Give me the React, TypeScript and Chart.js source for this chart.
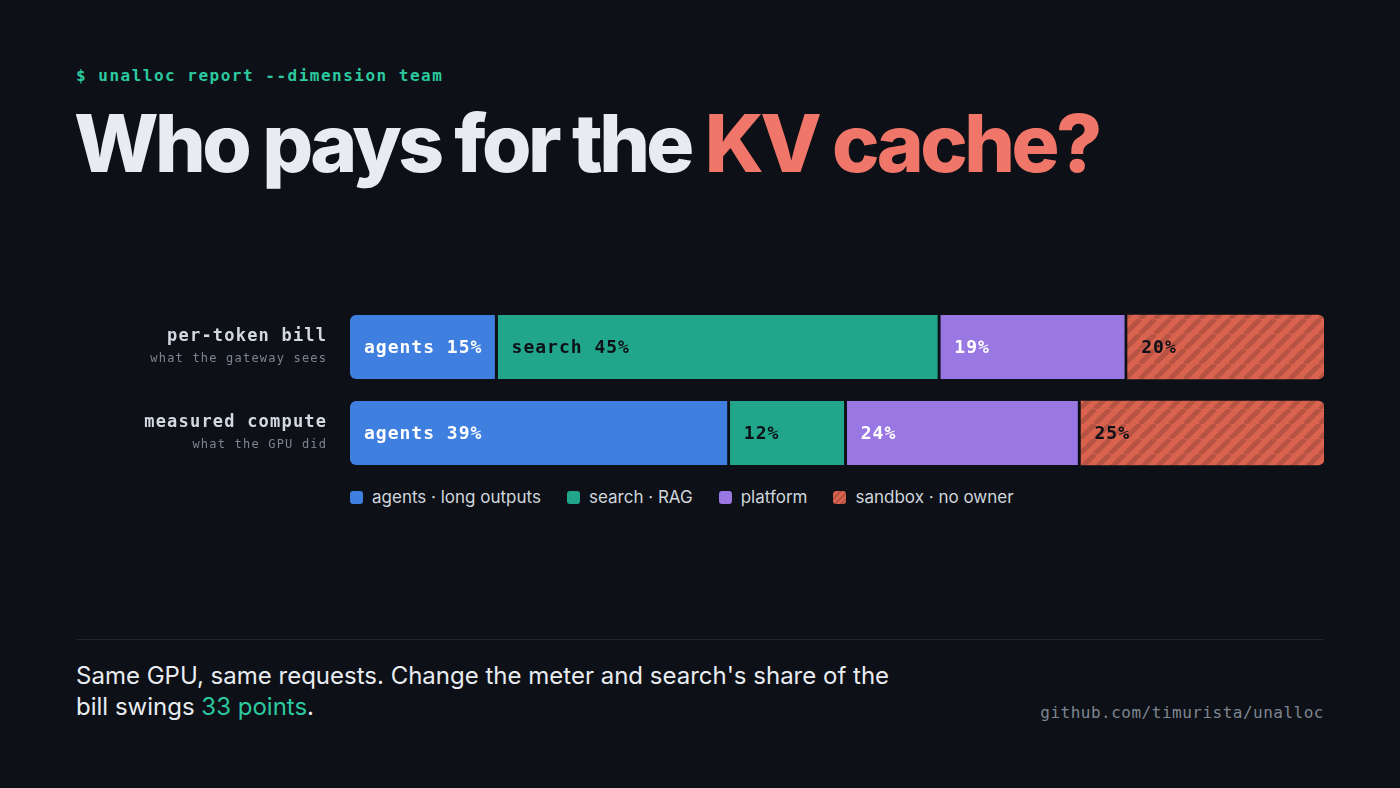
import React, { useEffect, useRef } from "react";
import { Chart, registerables } from "chart.js";

Chart.register(...registerables);

// ---- data ----
const rows = ["per-token bill", "measured compute"];
const rowNotes = ["what the gateway sees", "what the GPU did"];
const teams = ["agents", "search", "platform", "sandbox"];
const legendLabels = ["agents · long outputs", "search · RAG", "platform", "sandbox · no owner"];
const agentsShare = [15, 39];
const searchShare = [45, 12];
const platformShare = [19, 24];
const sandboxShare = [20, 25];
// which segments print the team name in front of the percentage (per row)
const billNamed = [true, true, false, false];
const computeNamed = [true, false, false, false];

// ---- style ----
const BG = "#0d1016";
const teamColors = ["#3f7fdf", "#21a68b", "#9a78e4", "#d9634f"];
const hatchStripe = "#b75343";
const inkOnBar = ["#ffffff", "#0d1016", "#ffffff", "#0d1016"];
const MONO = "'DejaVu Sans Mono', 'Liberation Mono', monospace";
const SANS = "Inter, 'Noto Sans', sans-serif";

const shares = [agentsShare, searchShare, platformShare, sandboxShare];
const named = [billNamed, computeNamed];
const rowTotals = rows.map((_, r) => shares.reduce((s, arr) => s + arr[r], 0));

function makeHatch(base: string, stripe: string): CanvasPattern | string {
  const s = 15;
  const c = document.createElement("canvas");
  c.width = s;
  c.height = s;
  const g = c.getContext("2d");
  if (!g) return base;
  g.fillStyle = base;
  g.fillRect(0, 0, s, s);
  g.strokeStyle = stripe;
  g.lineWidth = 4.8;
  g.beginPath();
  for (const o of [-s, 0, s]) {
    g.moveTo(o, s);
    g.lineTo(o + s, 0);
  }
  g.stroke();
  return g.createPattern(c, "repeat") || base;
}

const barTextPlugin = {
  id: "barText",
  afterDatasetsDraw(chart: any) {
    const ctx = chart.ctx as CanvasRenderingContext2D;
    ctx.save();
    ctx.font = `bold 18px ${MONO}`;
    (ctx as any).letterSpacing = "1px";
    ctx.textBaseline = "middle";
    ctx.textAlign = "left";
    chart.data.datasets.forEach((_ds: any, di: number) => {
      const meta = chart.getDatasetMeta(di);
      meta.data.forEach((el: any, i: number) => {
        const p = el.getProps(["x", "y", "base"], true);
        const left = Math.min(p.x, p.base);
        const v = shares[di][i];
        const txt = named[i][di] ? `${teams[di]} ${v}%` : `${v}%`;
        ctx.fillStyle = inkOnBar[di];
        ctx.fillText(txt, left + 14, p.y + 1);
      });
    });
    ctx.restore();
  },
};

const rowLabelPlugin = {
  id: "rowLabels",
  afterDraw(chart: any) {
    const ctx = chart.ctx as CanvasRenderingContext2D;
    const { chartArea, scales } = chart;
    ctx.save();
    ctx.textAlign = "right";
    ctx.textBaseline = "middle";
    rows.forEach((r, i) => {
      const cy = scales.y.getPixelForValue(i);
      const rx = chartArea.left - 24;
      ctx.font = `bold 17px ${MONO}`;
      (ctx as any).letterSpacing = "1.2px";
      ctx.fillStyle = "#d3d9e0";
      ctx.fillText(r, rx + 1.2, cy - 10);
      ctx.font = `12px ${MONO}`;
      (ctx as any).letterSpacing = "1.2px";
      ctx.fillStyle = "#7d8590";
      ctx.fillText(rowNotes[i], rx + 1.2, cy + 12);
    });
    ctx.restore();
  },
};

function ChartBlock() {
  const ref = useRef<HTMLCanvasElement | null>(null);
  useEffect(() => {
    if (!ref.current) return;
    const last = teams.length - 1;
    const datasets = teams.map((t, di) => ({
      label: t,
      data: rows.map((_, r) => (shares[di][r] / rowTotals[r]) * 100),
      backgroundColor: di === last ? makeHatch(teamColors[di], hatchStripe) : teamColors[di],
      borderColor: BG,
      borderWidth: di === last ? 0 : { top: 0, bottom: 0, left: 0, right: 3 },
      borderSkipped: false as const,
      borderRadius:
        di === 0
          ? { topLeft: 6, bottomLeft: 6, topRight: 0, bottomRight: 0 }
          : di === last
          ? { topLeft: 0, bottomLeft: 0, topRight: 6, bottomRight: 6 }
          : 0,
      barThickness: 64,
    }));
    const chart = new Chart(ref.current, {
      type: "bar",
      data: { labels: rows, datasets },
      options: {
        indexAxis: "y",
        animation: false,
        responsive: false,
        maintainAspectRatio: false,
        layout: { padding: { left: 350, right: 76, top: 0, bottom: 0 } },
        scales: {
          x: { stacked: true, min: 0, max: 100, display: false },
          y: { stacked: true, display: false },
        },
        plugins: {
          legend: { display: false },
          tooltip: { enabled: false },
        },
      },
      plugins: [barTextPlugin, rowLabelPlugin],
    });
    return () => chart.destroy();
  }, []);
  return (
    <canvas
      ref={ref}
      width={1400}
      height={172}
      style={{ position: "absolute", left: 0, top: 304, width: 1400, height: 172 }}
    />
  );
}

function Swatch({ i }: { i: number }) {
  const base = teamColors[i];
  const style: React.CSSProperties = {
    width: 13,
    height: 13,
    borderRadius: 3,
    background:
      i === teams.length - 1
        ? `repeating-linear-gradient(-45deg, ${base} 0px, ${base} 2.5px, ${hatchStripe} 2.5px, ${hatchStripe} 4.5px)`
        : base,
    flex: "0 0 auto",
  };
  return <span style={style} />;
}

export default function App() {
  return (
    <div
      style={{
        position: "fixed",
        inset: 0,
        width: 1400,
        height: 788,
        background: BG,
        overflow: "hidden",
      }}
    >
      <div
        style={{
          position: "absolute",
          left: 76,
          top: 68,
          font: `600 16px ${MONO}`,
          lineHeight: "16px",
          letterSpacing: "1.5px",
          color: "#2cc9a0",
          whiteSpace: "nowrap",
        }}
      >
        $ unalloc report --dimension team
      </div>
      <div
        style={{
          position: "absolute",
          left: 74,
          top: 103,
          font: `800 80px ${SANS}`,
          lineHeight: "80px",
          letterSpacing: "-0.045em",
          color: "#e8ecf1",
          whiteSpace: "nowrap",
        }}
      >
        Who pays for the <span style={{ color: "#f07669" }}>KV cache?</span>
      </div>

      <ChartBlock />

      <div
        style={{
          position: "absolute",
          left: 350,
          top: 487,
          height: 20,
          display: "flex",
          alignItems: "center",
          gap: 26,
          font: `17px ${SANS}`,
          color: "#d0d6dd",
          whiteSpace: "nowrap",
        }}
      >
        {legendLabels.map((l, i) => (
          <span key={l} style={{ display: "flex", alignItems: "center", gap: 9 }}>
            <Swatch i={i} />
            <span>{l}</span>
          </span>
        ))}
      </div>

      <div
        style={{
          position: "absolute",
          left: 76,
          top: 639,
          width: 1248,
          height: 1,
          background: "#21262d",
        }}
      />
      <div
        style={{
          position: "absolute",
          left: 76,
          top: 660,
          font: `24px ${SANS}`,
          lineHeight: "31px",
          color: "#e8ecf1",
          whiteSpace: "nowrap",
        }}
      >
        Same GPU, same requests. Change the meter and search's share of the
        <br />
        bill swings <span style={{ color: "#2cc9a0" }}>33 points</span>.
      </div>
      <div
        style={{
          position: "absolute",
          right: 76,
          top: 705,
          font: `16px ${MONO}`,
          lineHeight: "16px",
          letterSpacing: "0.5px",
          color: "#7d8590",
          whiteSpace: "nowrap",
        }}
      >
        github.com/timurista/unalloc
      </div>
    </div>
  );
}
